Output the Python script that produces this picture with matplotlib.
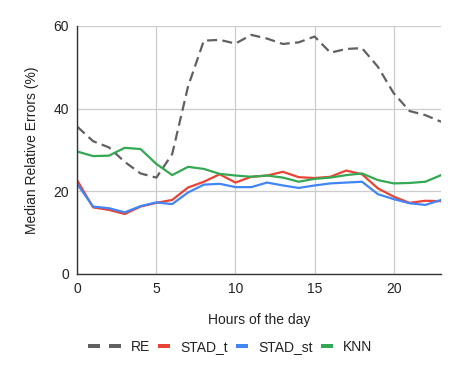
import numpy as np
import matplotlib.pyplot as plt
from matplotlib.patches import Rectangle

plt.rcParams['font.family'] = ['Liberation Sans', 'DejaVu Sans']

hours = np.arange(24)
re_err = [35.6, 32.1, 30.6, 27.1, 24.3, 23.3, 29.0, 45.3, 56.4, 56.6, 55.7, 57.8,
          56.9, 55.6, 56.0, 57.4, 53.5, 54.4, 54.6, 50.1, 43.7, 39.4, 38.4, 36.8]
stad_t = [22.6, 16.1, 15.5, 14.5, 16.3, 17.2, 17.9, 20.9, 22.3, 24.1, 22.1, 23.5,
          23.8, 24.7, 23.4, 23.2, 23.5, 25.0, 24.1, 20.7, 18.7, 17.2, 17.7, 17.6]
stad_st = [21.7, 16.3, 15.9, 14.9, 16.4, 17.3, 16.9, 19.7, 21.6, 21.8, 21.0, 21.0,
           22.1, 21.4, 20.8, 21.4, 21.9, 22.1, 22.3, 19.3, 18.1, 17.1, 16.7, 17.9]
knn = [29.6, 28.5, 28.6, 30.5, 30.2, 26.6, 23.9, 25.9, 25.4, 24.2, 23.8, 23.5,
       23.8, 23.3, 22.3, 23.0, 23.3, 23.9, 24.3, 22.7, 21.9, 22.0, 22.3, 23.9]


# google-charts style legend keys: short thick bars, two of them for dashed line
class BarKey:
    def legend_artist(self, legend, orig, fontsize, handlebox):
        w, h = handlebox.width, handlebox.height
        seg, gap, th = 8.6, 6.5, 3.0
        n = 2 if orig.get_linestyle() != '-' else 1
        y = handlebox.ydescent * -1 + h / 2 - th / 2
        x = w - seg
        art = None
        for i in range(n):
            r = Rectangle((x - handlebox.xdescent, y), seg, th,
                          facecolor=orig.get_color(), edgecolor='none',
                          transform=handlebox.get_transform())
            handlebox.add_artist(r)
            art = r
            x -= seg + gap
        return art


fig = plt.figure(figsize=(4.6, 3.71), dpi=100)
ax = fig.add_axes([0.168, 0.2615, 0.791, 0.669])

lw = 1.6
lines = []
lines += ax.plot(hours, re_err, color='#616161', lw=lw, dashes=(4.5, 2.4), label='RE')
lines += ax.plot(hours, stad_t, color='#EA4335', lw=lw, label='STAD_t')
lines += ax.plot(hours, stad_st, color='#4285F4', lw=lw, label='STAD_st')
lines += ax.plot(hours, knn, color='#34A853', lw=lw, label='KNN')

ax.set_xlim(0, 23)
ax.set_ylim(0, 60)
ax.set_xticks([0, 5, 10, 15, 20])
ax.set_yticks([0, 20, 40, 60])
ax.grid(True, color='#cccccc', lw=0.9)
ax.set_axisbelow(True)
for s in ['top', 'right']:
    ax.spines[s].set_visible(False)
for s in ['left', 'bottom']:
    ax.spines[s].set_color('#333333')
    ax.spines[s].set_linewidth(1.0)
ax.tick_params(length=0, labelsize=10, colors='#222222', pad=6)

ax.set_xlabel('Hours of the day', fontsize=10, color='#222222', labelpad=12)
ax.set_ylabel('Median Relative Errors (%)', fontsize=10, color='#222222', labelpad=10)

fig.legend(handles=lines, loc='center', bbox_to_anchor=(0.5, 0.065), ncol=4,
           frameon=False, fontsize=10, handlelength=2.37, columnspacing=-0.9,
           handletextpad=0.72, labelcolor='#222222',
           handler_map={l: BarKey() for l in lines})

fig.savefig('out.png', dpi=100)
